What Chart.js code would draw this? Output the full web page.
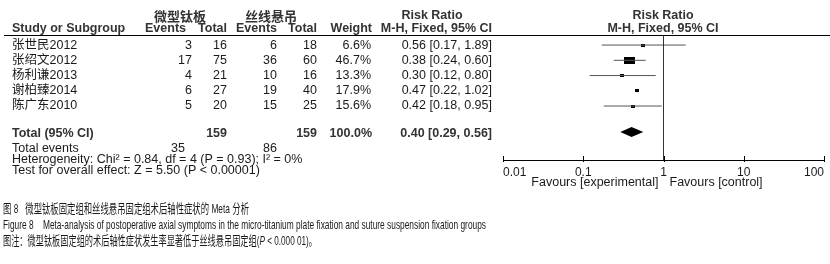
<!DOCTYPE html>
<html>
<head>
<meta charset="utf-8">
<script src="https://cdn.jsdelivr.net/npm/chart.js@4.4.0/dist/chart.umd.min.js"></script>
<style>
  html, body { margin: 0; padding: 0; background: #fff; }
  canvas { display: block; }
</style>
</head>
<body>
<canvas id="forest" width="830" height="264"></canvas>
<script>
// study rows
const studies = ["张世民2012", "张绍文2012", "杨利谦2013", "谢柏臻2014", "陈广东2010"];
const expEvents = [3, 17, 4, 6, 5];
const expTotal = [16, 75, 21, 27, 20];
const ctrlEvents = [6, 36, 10, 19, 15];
const ctrlTotal = [18, 60, 16, 40, 25];
const weights = [6.6, 46.7, 13.3, 17.9, 15.6];
const riskRatio = [0.56, 0.38, 0.30, 0.47, 0.42];
const ciLow = [0.17, 0.24, 0.12, 0.22, 0.18];
const ciHigh = [1.89, 0.60, 0.80, 1.02, 0.95];
// the CI whisker of row 4 is not visible in the source figure
const ciVisible = [true, true, true, false, true];

// pooled result
const totalExp = 159;
const totalCtrl = 159;
const totalWeight = 100.0;
const totalRR = 0.40;
const totalLow = 0.29;
const totalHigh = 0.56;
const totalExpEvents = 35;
const totalCtrlEvents = 86;

const axisTicks = [0.01, 0.1, 1, 10, 100];
const axisLabels = ["0.01", "0.1", "1", "10", "100"];

const FONT = 'Arial, "Liberation Sans", "Noto Sans CJK SC", sans-serif';
const CJK = '"Noto Sans CJK SC", Arial, sans-serif';
const Y_MIN = -0.66, Y_MAX = 7.54, TOTAL_ROW = 5.7;

const fmtRR = (v, lo, hi) => `${v.toFixed(2)} [${lo.toFixed(2)}, ${hi.toFixed(2)}]`;

// weight boxes as small canvases used for the point style
const makeBox = (w, h) => {
  const c = document.createElement("canvas");
  c.width = Math.round(w);
  c.height = Math.round(h);
  const g = c.getContext("2d");
  g.fillStyle = "#000";
  g.fillRect(0, 0, c.width, c.height);
  return c;
};
const boxes = weights.map((w) => {
  const bw = Math.max(3.5, (w / 46.7) * 11);
  return makeBox(bw, Math.max(3, bw * 0.64));
});

const text = (ctx, str, x, y, align, font, color) => {
  ctx.font = font;
  ctx.fillStyle = color || "#1a1a1a";
  ctx.textAlign = align;
  ctx.textBaseline = "middle";
  ctx.fillText(str, x, y);
};

// draws a caption line squeezed to a given width, parts = [[text, italic]]
const caption = (ctx, parts, x, y, width, size) => {
  ctx.save();
  ctx.textBaseline = "middle";
  ctx.textAlign = "left";
  let natural = 0;
  parts.forEach(([s, it]) => {
    ctx.font = `${it ? "italic " : ""}${size}px ${FONT}`;
    natural += ctx.measureText(s).width;
  });
  ctx.translate(x, y);
  ctx.scale(width / natural, 1);
  let cx = 0;
  ctx.fillStyle = "#1a1a1a";
  parts.forEach(([s, it]) => {
    ctx.font = `${it ? "italic " : ""}${size}px ${FONT}`;
    ctx.fillText(s, cx, 0);
    cx += ctx.measureText(s).width;
  });
  ctx.restore();
};

const tablePlugin = {
  id: "forestTable",
  afterDatasetsDraw(chart) {
    const { ctx } = chart;
    const xs = chart.scales.x;
    const ys = chart.scales.y;

    // pooled diamond
    const cy = ys.getPixelForValue(TOTAL_ROW);
    ctx.save();
    ctx.fillStyle = "#000";
    ctx.beginPath();
    ctx.moveTo(xs.getPixelForValue(totalLow), cy);
    ctx.lineTo(xs.getPixelForValue(totalRR), cy - 5);
    ctx.lineTo(xs.getPixelForValue(totalHigh), cy);
    ctx.lineTo(xs.getPixelForValue(totalRR), cy + 5);
    ctx.closePath();
    ctx.fill();

    // tick marks crossing the axis
    ctx.strokeStyle = "#000";
    ctx.lineWidth = 1;
    axisTicks.forEach((v) => {
      const px = Math.round(xs.getPixelForValue(v)) + 0.5;
      ctx.beginPath();
      ctx.moveTo(px, xs.top - 4);
      ctx.lineTo(px, xs.top + 2);
      ctx.stroke();
    });

    // header rule
    ctx.beginPath();
    ctx.moveTo(4, 35.5);
    ctx.lineTo(830, 35.5);
    ctx.stroke();
    ctx.restore();

    const bold = `bold 12.5px ${FONT}`;
    const reg = `12.5px ${FONT}`;
    const hc = "#333";

    text(ctx, "微型钛板", 180, 16, "center", `bold 13px ${CJK}`, hc);
    text(ctx, "丝线悬吊", 271, 16, "center", `bold 13px ${CJK}`, hc);
    text(ctx, "Risk Ratio", 432, 16, "center", bold, hc);
    text(ctx, "Risk Ratio", 663, 16, "center", bold, hc);

    text(ctx, "Study or Subgroup", 12, 29, "left", bold, hc);
    text(ctx, "Events", 186, 29, "right", bold, hc);
    text(ctx, "Total", 227, 29, "right", bold, hc);
    text(ctx, "Events", 277, 29, "right", bold, hc);
    text(ctx, "Total", 317, 29, "right", bold, hc);
    text(ctx, "Weight", 372, 29, "right", bold, hc);
    text(ctx, "M-H, Fixed, 95% CI", 492, 29, "right", bold, hc);
    text(ctx, "M-H, Fixed, 95% CI", 663, 29, "center", bold, hc);

    studies.forEach((name, i) => {
      const y = ys.getPixelForValue(i);
      text(ctx, name, 12, y, "left", reg);
      text(ctx, String(expEvents[i]), 192, y, "right", reg);
      text(ctx, String(expTotal[i]), 227, y, "right", reg);
      text(ctx, String(ctrlEvents[i]), 277, y, "right", reg);
      text(ctx, String(ctrlTotal[i]), 317, y, "right", reg);
      text(ctx, weights[i].toFixed(1) + "%", 371, y, "right", reg);
      text(ctx, fmtRR(riskRatio[i], ciLow[i], ciHigh[i]), 492, y, "right", reg);
    });

    const ty = ys.getPixelForValue(TOTAL_ROW) + 1.5;
    text(ctx, "Total (95% CI)", 12, ty, "left", bold, hc);
    text(ctx, String(totalExp), 227, ty, "right", bold, hc);
    text(ctx, String(totalCtrl), 317, ty, "right", bold, hc);
    text(ctx, totalWeight.toFixed(1) + "%", 372, ty, "right", bold, hc);
    text(ctx, fmtRR(totalRR, totalLow, totalHigh), 492, ty, "right", bold, hc);

    text(ctx, "Total events", 12, 149, "left", reg);
    text(ctx, String(totalExpEvents), 185, 149, "right", reg);
    text(ctx, String(totalCtrlEvents), 277, 149, "right", reg);
    text(ctx, "Heterogeneity: Chi\u00b2 = 0.84, df = 4 (P = 0.93); I\u00b2 = 0%", 12, 160, "left", reg);
    text(ctx, "Test for overall effect: Z = 5.50 (P < 0.00001)", 12, 171, "left", reg);

    const fx = xs.getPixelForValue(1);
    text(ctx, "Favours [experimental]", fx - 5, 183, "right", reg);
    text(ctx, "Favours [control]", fx + 6, 183, "left", reg);

    caption(ctx, [["图 8   微型钛板固定组和丝线悬吊固定组术后轴性症状的 Meta 分析", false]], 3, 209, 246, 13);
    caption(ctx, [["Figure 8    Meta-analysis of postoperative axial symptoms in the micro-titanium plate fixation and suture suspension fixation groups", false]], 3, 225, 483, 13);
    caption(ctx, [["图注：微型钛板固定组的术后轴性症状发生率显著低于丝线悬吊固定组(", false], ["P", true], [" < 0.000 01)。", false]], 3, 241, 314, 13);
  },
};

const ciSets = studies
  .map((s, i) => ({
    label: s,
    data: [{ x: ciLow[i], y: i }, { x: ciHigh[i], y: i }],
    showLine: true,
    borderColor: "#555",
    borderWidth: 1,
    pointRadius: 0,
  }))
  .filter((d, i) => ciVisible[i]);

const canvas = document.getElementById("forest");
new Chart(canvas.getContext("2d"), {
  type: "scatter",
  data: {
    datasets: [
      {
        label: "no effect",
        data: [{ x: 1, y: Y_MIN }, { x: 1, y: Y_MAX }],
        showLine: true,
        borderColor: "#333",
        borderWidth: 1,
        pointRadius: 0,
      },
      ...ciSets,
      {
        label: "Risk Ratio",
        data: riskRatio.map((v, i) => ({ x: v, y: i })),
        pointStyle: boxes,
        pointRadius: 4,
        showLine: false,
      },
    ],
  },
  options: {
    responsive: false,
    animation: false,
    devicePixelRatio: 1,
    layout: { padding: { left: 503, right: 6, top: 35, bottom: 0 } },
    scales: {
      x: {
        type: "logarithmic",
        min: 0.01,
        max: 100,
        afterBuildTicks: (scale) => {
          scale.ticks = axisTicks.map((v) => ({ value: v }));
        },
        afterFit: (scale) => {
          scale.height = 104;
          scale.paddingLeft = 0;
          scale.paddingRight = 0;
        },
        ticks: {
          align: "inner",
          autoSkip: false,
          maxRotation: 0,
          padding: 5,
          color: "#1a1a1a",
          font: { family: FONT, size: 12 },
          callback: (v) => axisLabels[axisTicks.indexOf(v)] ?? "",
        },
        grid: { display: false, drawTicks: false },
        border: { display: true, color: "#000", width: 1 },
      },
      y: {
        display: false,
        reverse: true,
        min: Y_MIN,
        max: Y_MAX,
      },
    },
    plugins: {
      legend: { display: false },
      tooltip: { enabled: false },
    },
  },
  plugins: [tablePlugin],
});
</script>
</body>
</html>
